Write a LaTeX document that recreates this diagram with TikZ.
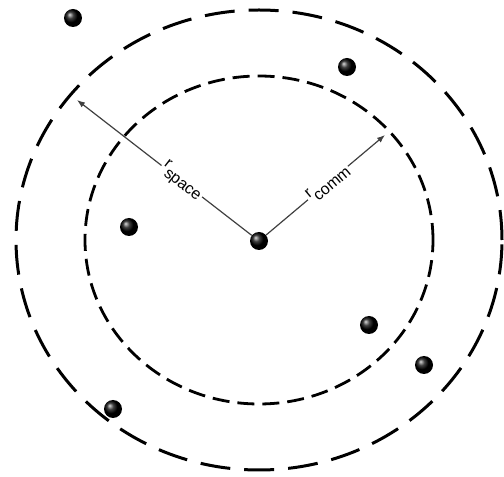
\documentclass[tikz,border=0pt]{standalone}
\usepackage{fontspec}
\setmainfont{Liberation Sans}
\usetikzlibrary{arrows.meta}

\begin{document}
\begin{tikzpicture}[x=1pt,y=1pt,
    dot/.style={circle,inner sep=0pt,minimum size=18pt,shading=ball,ball color=black},
    radius line/.style={-{Latex[length=8pt,width=6pt]},line width=1.2pt,draw=black!75},
    lbl/.style={fill=white,inner sep=1.5pt,sloped,font=\fontsize{16}{16}\selectfont}]
  \useasboundingbox (0,0) rectangle (504,477);
  % sensing and communication ranges
  \draw[line width=3pt,dash pattern=on 30pt off 14pt] (259,237) ellipse [x radius=243pt,y radius=230pt];
  \draw[line width=2.8pt,dash pattern=on 17pt off 8pt] (259,237) ellipse [x radius=174pt,y radius=164pt];
  % nodes
  \node[dot] (c) at (259,236) {};
  \node[dot] (n1) at (73,459) {};
  \node[dot] (n2) at (347,410) {};
  \node[dot] (n3) at (129,250) {};
  \node[dot] (n4) at (369,152) {};
  \node[dot] (n5) at (424,112) {};
  \node[dot] (n6) at (113,68) {};
  \coordinate (tspace) at (77,377);
  \coordinate (tcomm) at (385,342);
  % radii
  \draw[radius line] (c) -- node[lbl,pos=0.4] {r\raisebox{-8pt}{space}} (tspace);
  \draw[radius line] (c) -- node[lbl,pos=0.52] {r\raisebox{-8pt}{comm}} (tcomm);
\end{tikzpicture}
\end{document}
